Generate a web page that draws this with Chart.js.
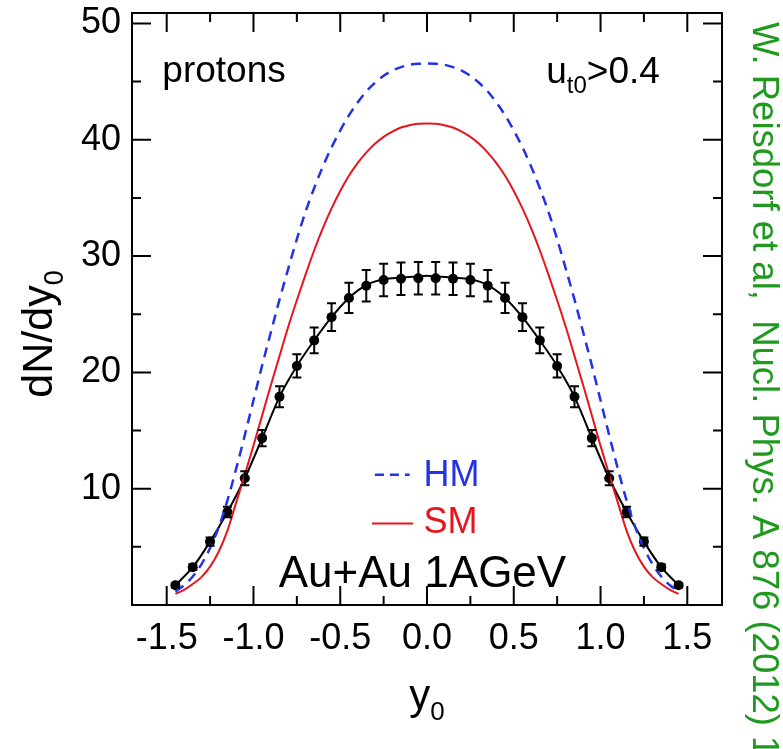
<!DOCTYPE html>
<html>
<head>
<meta charset="utf-8">
<script src="https://cdn.jsdelivr.net/npm/chart.js@4.4.1/dist/chart.umd.min.js"></script>
<style>
  html, body { margin: 0; padding: 0; background: #fff; }
</style>
</head>
<body>
<canvas id="chart" width="783" height="749"></canvas>
<script>
// measured points (protons, Au+Au 1AGeV)
const dataX = [-1.45, -1.35, -1.25, -1.15, -1.05, -0.95, -0.85, -0.75, -0.65, -0.55, -0.45, -0.35, -0.25, -0.15, -0.05,
               0.05, 0.15, 0.25, 0.35, 0.45, 0.55, 0.65, 0.75, 0.85, 0.95, 1.05, 1.15, 1.25, 1.35, 1.45];
const dataY = [1.7, 3.25, 5.45, 8.0, 10.9, 14.35, 17.9, 20.55, 22.75, 24.75, 26.4, 27.45, 27.95, 28.05, 28.1,
               28.1, 28.05, 27.95, 27.45, 26.4, 24.75, 22.75, 20.55, 17.9, 14.35, 10.9, 8.0, 5.45, 3.25, 1.7];
const dataErr = [0.2, 0.25, 0.35, 0.45, 0.6, 0.7, 0.9, 1.0, 1.1, 1.2, 1.3, 1.35, 1.4, 1.4, 1.4,
                 1.4, 1.4, 1.4, 1.35, 1.3, 1.2, 1.1, 1.0, 0.9, 0.7, 0.6, 0.45, 0.35, 0.25, 0.2];

// black fit line through the data
const fitX = [-1.45, -1.35, -1.25, -1.15, -1.05, -0.95, -0.85, -0.75, -0.65, -0.55, -0.45, -0.35, -0.25, -0.15, -0.05, 0,
              0.05, 0.15, 0.25, 0.35, 0.45, 0.55, 0.65, 0.75, 0.85, 0.95, 1.05, 1.15, 1.25, 1.35, 1.45];
const fitY = [1.7, 3.25, 5.45, 8.0, 10.9, 14.35, 17.9, 20.55, 22.75, 24.75, 26.4, 27.5, 28.0, 28.15, 28.25, 28.3,
              28.25, 28.15, 28.0, 27.5, 26.4, 24.75, 22.75, 20.55, 17.9, 14.35, 10.9, 8.0, 5.45, 3.25, 1.7];

// model curves
const curveX = [-1.45, -1.40, -1.35, -1.30, -1.25, -1.20, -1.15, -1.10, -1.05, -1.00, -0.95, -0.90, -0.85, -0.80, -0.75,
                -0.70, -0.65, -0.60, -0.55, -0.50, -0.45, -0.40, -0.35, -0.30, -0.25, -0.20, -0.15, -0.10, -0.05, 0,
                0.05, 0.10, 0.15, 0.20, 0.25, 0.30, 0.35, 0.40, 0.45, 0.50, 0.55, 0.60, 0.65, 0.70,
                0.75, 0.80, 0.85, 0.90, 0.95, 1.00, 1.05, 1.10, 1.15, 1.20, 1.25, 1.30, 1.35, 1.40, 1.45];
const hmY = [1.15, 1.7, 2.45, 3.5, 4.9, 6.7, 9.0, 11.7, 14.6, 17.6, 20.6, 23.45, 26.25, 28.9, 31.45,
             33.8, 35.85, 37.7, 39.35, 40.8, 42.1, 43.2, 44.15, 44.9, 45.5, 45.95, 46.25, 46.45, 46.53, 46.55,
             46.53, 46.45, 46.25, 45.95, 45.5, 44.9, 44.15, 43.2, 42.1, 40.8, 39.35, 37.7, 35.85, 33.8,
             31.45, 28.9, 26.25, 23.45, 20.6, 17.6, 14.6, 11.7, 9.0, 6.7, 4.9, 3.5, 2.45, 1.7, 1.15];
const smY = [0.95, 1.3, 1.8, 2.4, 3.3, 4.6, 6.4, 8.8, 11.2, 13.7, 16.3, 18.9, 21.4, 23.9, 26.2,
             28.4, 30.5, 32.4, 34.1, 35.6, 36.9, 38.0, 38.9, 39.65, 40.25, 40.7, 41.05, 41.25, 41.37, 41.4,
             41.37, 41.25, 41.05, 40.7, 40.25, 39.65, 38.9, 38.0, 36.9, 35.6, 34.1, 32.4, 30.5, 28.4,
             26.2, 23.9, 21.4, 18.9, 16.3, 13.7, 11.2, 8.8, 6.4, 4.6, 3.3, 2.4, 1.8, 1.3, 0.95];

const xLabels = [-1.5, -1.0, -0.5, 0.0, 0.5, 1.0, 1.5];
const yLabels = [10, 20, 30, 40, 50];

const FONT = '"Liberation Sans", Arial, Helvetica, sans-serif';
const BLUE = '#2233e6';
const RED = '#e8141c';
const GREEN = '#1f9a1f';

function pts(xs, ys) {
    return xs.map((x, i) => ({ x: x, y: ys[i] }));
}

function isLabelX(v) {
    return xLabels.some(l => Math.abs(l - v) < 1e-6);
}

// draw text parts one after another: [{t, size, dy, color}]
function drawParts(ctx, parts, x, y, align) {
    let total = 0;
    parts.forEach(p => {
        ctx.font = p.size + 'px ' + FONT;
        p.w = ctx.measureText(p.t).width;
        total += p.w;
    });
    let cx = x;
    if (align === 'center') cx = x - total / 2;
    if (align === 'right') cx = x - total;
    parts.forEach(p => {
        ctx.font = p.size + 'px ' + FONT;
        ctx.fillStyle = p.color || '#000';
        ctx.fillText(p.t, cx, y + (p.dy || 0));
        cx += p.w;
    });
}

// error bars, frame with inward ticks, annotations
const decorPlugin = {
    id: 'decor',
    afterDatasetsDraw(chart) {
        const ctx = chart.ctx;
        const xs = chart.scales.x, ys = chart.scales.y;
        ctx.save();
        ctx.strokeStyle = '#000';
        ctx.lineWidth = 2;
        ctx.beginPath();
        dataX.forEach((x, i) => {
            const px = xs.getPixelForValue(x);
            const top = ys.getPixelForValue(dataY[i] + dataErr[i]);
            const bot = ys.getPixelForValue(dataY[i] - dataErr[i]);
            ctx.moveTo(px, top); ctx.lineTo(px, bot);
            ctx.moveTo(px - 4.5, top); ctx.lineTo(px + 4.5, top);
            ctx.moveTo(px - 4.5, bot); ctx.lineTo(px + 4.5, bot);
        });
        ctx.stroke();
        ctx.restore();
    },
    afterDraw(chart) {
        const ctx = chart.ctx;
        const a = chart.chartArea;
        const xs = chart.scales.x, ys = chart.scales.y;
        ctx.save();
        ctx.strokeStyle = '#000';
        ctx.lineWidth = 2;
        ctx.strokeRect(a.left, a.top, a.right - a.left, a.bottom - a.top);
        ctx.beginPath();
        xs.ticks.forEach(t => {
            const px = xs.getPixelForValue(t.value);
            const len = isLabelX(t.value) ? 19 : 9;
            ctx.moveTo(px, a.bottom); ctx.lineTo(px, a.bottom - len);
            ctx.moveTo(px, a.top); ctx.lineTo(px, a.top + len);
        });
        ys.ticks.forEach(t => {
            if (t.value <= 0) return;
            const py = ys.getPixelForValue(t.value);
            const len = t.value % 10 === 0 ? 19 : 9;
            ctx.moveTo(a.left, py); ctx.lineTo(a.left + len, py);
            ctx.moveTo(a.right, py); ctx.lineTo(a.right - len, py);
        });
        ctx.stroke();

        ctx.textBaseline = 'alphabetic';
        ctx.textAlign = 'left';
        drawParts(ctx, [{ t: 'protons', size: 37 }], xs.getPixelForValue(-1.525), ys.getPixelForValue(45.0), 'left');
        drawParts(ctx, [
            { t: 'u', size: 37 },
            { t: 't0', size: 24, dy: 10 },
            { t: '>0.4', size: 37 }
        ], xs.getPixelForValue(0.687), ys.getPixelForValue(44.9), 'left');

        // legend
        ctx.lineWidth = 2.5;
        ctx.strokeStyle = BLUE;
        ctx.setLineDash([9, 6]);
        ctx.beginPath();
        ctx.moveTo(xs.getPixelForValue(-0.30), ys.getPixelForValue(11.2));
        ctx.lineTo(xs.getPixelForValue(-0.10), ys.getPixelForValue(11.2));
        ctx.stroke();
        ctx.setLineDash([]);
        ctx.lineWidth = 2;
        ctx.strokeStyle = RED;
        ctx.beginPath();
        ctx.moveTo(xs.getPixelForValue(-0.318), ys.getPixelForValue(7.0));
        ctx.lineTo(xs.getPixelForValue(-0.08), ys.getPixelForValue(7.0));
        ctx.stroke();
        drawParts(ctx, [{ t: 'HM', size: 36, color: BLUE }], xs.getPixelForValue(-0.02), ys.getPixelForValue(10.25), 'left');
        drawParts(ctx, [{ t: 'SM', size: 36, color: RED }], xs.getPixelForValue(-0.02), ys.getPixelForValue(6.2), 'left');
        drawParts(ctx, [{ t: 'Au+Au 1AGeV', size: 44 }], xs.getPixelForValue(0.802), ys.getPixelForValue(1.55), 'right');

        // axis titles
        drawParts(ctx, [{ t: 'y', size: 42 }, { t: '0', size: 26, dy: 11 }], xs.getPixelForValue(0.0), 709, 'center');
        ctx.save();
        ctx.translate(52, 334);
        ctx.rotate(-Math.PI / 2);
        drawParts(ctx, [{ t: 'dN/dy', size: 43 }, { t: '0', size: 27, dy: 11 }], 0, 0, 'center');
        ctx.restore();

        // citation
        ctx.save();
        ctx.translate(753, 22);
        ctx.rotate(Math.PI / 2);
        drawParts(ctx, [{ t: 'W. Reisdorf et al,  Nucl. Phys. A 876 (2012) 1', size: 36.5, color: GREEN }], 0, 0, 'left');
        ctx.restore();
        ctx.restore();
    }
};

function noPad(scale) {
    scale.paddingTop = 0;
    scale.paddingBottom = 0;
    scale.paddingLeft = 0;
    scale.paddingRight = 0;
}

new Chart(document.getElementById('chart'), {
    type: 'scatter',
    data: {
        datasets: [
            {
                label: 'HM',
                data: pts(curveX, hmY),
                showLine: true,
                borderColor: BLUE,
                borderWidth: 2.5,
                borderDash: [10, 7],
                pointRadius: 0,
                cubicInterpolationMode: 'monotone'
            },
            {
                label: 'SM',
                data: pts(curveX, smY),
                showLine: true,
                borderColor: RED,
                borderWidth: 2,
                pointRadius: 0,
                cubicInterpolationMode: 'monotone'
            },
            {
                label: 'fit',
                data: pts(fitX, fitY),
                showLine: true,
                borderColor: '#000',
                borderWidth: 2,
                pointRadius: 0,
                cubicInterpolationMode: 'monotone'
            },
            {
                label: 'data',
                data: pts(dataX, dataY),
                showLine: false,
                pointRadius: 5,
                pointBackgroundColor: '#000',
                pointBorderColor: '#000',
                pointBorderWidth: 0
            }
        ]
    },
    options: {
        responsive: false,
        animation: false,
        devicePixelRatio: 1,
        layout: { padding: { top: 13, right: 61, left: 0, bottom: 0 } },
        plugins: { legend: { display: false }, tooltip: { enabled: false } },
        scales: {
            x: {
                type: 'linear',
                min: -1.7,
                max: 1.7,
                grid: { display: false, drawTicks: false },
                border: { display: false },
                ticks: {
                    stepSize: 0.25,
                    includeBounds: false,
                    autoSkip: false,
                    maxRotation: 0,
                    padding: 12,
                    color: '#000',
                    font: { family: FONT, size: 36 },
                    callback: v => isLabelX(v) ? v.toFixed(1) : ''
                },
                afterFit: s => { s.height = 144; noPad(s); }
            },
            y: {
                type: 'linear',
                min: 0,
                max: 50.9,
                grid: { display: false, drawTicks: false },
                border: { display: false },
                ticks: {
                    stepSize: 5,
                    includeBounds: false,
                    autoSkip: false,
                    padding: 11,
                    color: '#000',
                    font: { family: FONT, size: 36 },
                    callback: v => yLabels.includes(v) ? String(v) : ''
                },
                afterFit: s => { s.width = 132; noPad(s); }
            }
        }
    },
    plugins: [decorPlugin]
});
</script>
</body>
</html>
